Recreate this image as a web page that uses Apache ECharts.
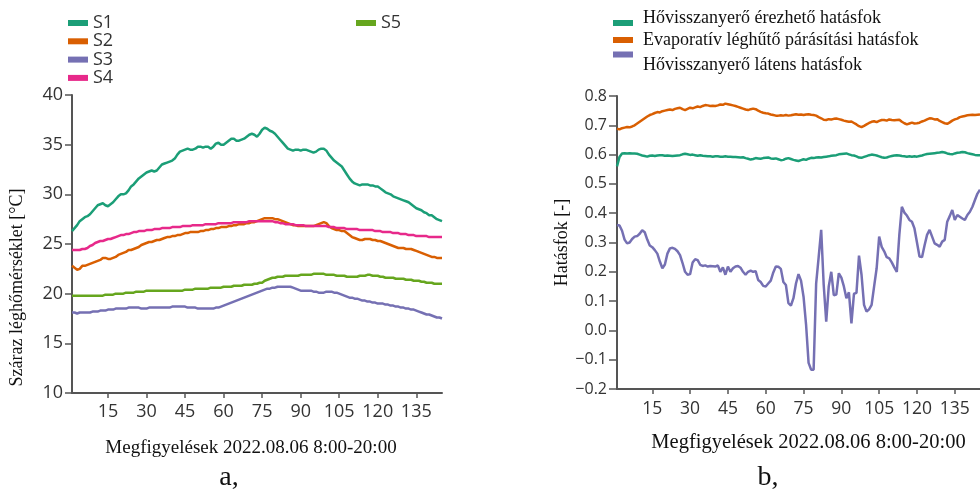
<!DOCTYPE html>
<html>
<head>
<meta charset="utf-8">
<script src="https://cdn.jsdelivr.net/npm/echarts@6/dist/echarts.min.js"></script>
<style>
  html, body { margin: 0; padding: 0; background: #fff; }
  #chart { width: 980px; height: 495px; }
</style>
</head>
<body>
<div id="chart"></div>
<script>
// Observation index (5-minute readings, 8:00-20:00)
const observationCount = 145;
const observations = [];
for (let i = 1; i <= observationCount; i++) observations.push(String(i));
const tickStep = 15;

// Panel a: dry-bulb air temperature at five measuring points [°C]
const tempS1 = [
  26.3, 26.6, 26.9, 27.3, 27.5, 27.7, 27.8, 28.0, 28.3, 28.6,
  28.9, 29.0, 29.1, 28.9, 28.8, 29.0, 29.2, 29.5, 29.8, 30.0,
  30.0, 30.1, 30.4, 30.8, 31.0, 31.3, 31.6, 31.8, 32.0, 32.2,
  32.3, 32.4, 32.3, 32.4, 32.7, 33.0, 33.1, 33.2, 33.3, 33.4,
  33.6, 34.0, 34.3, 34.4, 34.5, 34.6, 34.5, 34.5, 34.6, 34.8,
  34.8, 34.7, 34.8, 34.8, 34.6, 34.8, 35.1, 35.2, 35.0, 35.0,
  35.2, 35.4, 35.6, 35.6, 35.4, 35.4, 35.5, 35.6, 35.8, 36.0,
  36.1, 36.0, 35.8, 36.1, 36.5, 36.7, 36.6, 36.4, 36.3, 36.1,
  35.8, 35.5, 35.2, 34.9, 34.6, 34.5, 34.4, 34.5, 34.5, 34.4,
  34.5, 34.5, 34.4, 34.3, 34.2, 34.3, 34.5, 34.6, 34.6, 34.4,
  34.0, 33.7, 33.4, 33.2, 33.0, 32.8, 32.4, 32.0, 31.6, 31.3,
  31.1, 31.0, 30.9, 31.0, 31.0, 31.0, 30.9, 30.9, 30.8, 30.8,
  30.6, 30.4, 30.2, 30.1, 30.0, 29.8, 29.7, 29.6, 29.5, 29.4,
  29.3, 29.2, 29.0, 28.8, 28.6, 28.5, 28.4, 28.2, 28.1, 27.9,
  27.9, 27.7, 27.5, 27.4, 27.3
];
const tempS2 = [
  22.8, 22.6, 22.4, 22.5, 22.8, 22.8, 22.9, 23.0, 23.1, 23.2,
  23.3, 23.4, 23.6, 23.6, 23.5, 23.5, 23.6, 23.7, 23.9, 24.0,
  24.1, 24.2, 24.4, 24.4, 24.5, 24.6, 24.7, 24.9, 25.0, 25.1,
  25.2, 25.2, 25.3, 25.4, 25.4, 25.5, 25.6, 25.7, 25.7, 25.8,
  25.8, 25.9, 25.9, 26.0, 26.1, 26.1, 26.2, 26.2, 26.2, 26.2,
  26.3, 26.3, 26.4, 26.4, 26.5, 26.5, 26.6, 26.6, 26.7, 26.7,
  26.7, 26.8, 26.8, 26.9, 26.9, 27.0, 27.0, 27.0, 27.1, 27.1,
  27.2, 27.2, 27.3, 27.4, 27.5, 27.6, 27.6, 27.6, 27.6, 27.5,
  27.5, 27.4, 27.3, 27.2, 27.1, 27.0, 26.9, 26.9, 26.8, 26.8,
  26.8, 26.8, 26.8, 26.8, 26.8, 26.9, 27.0, 27.1, 27.2, 27.1,
  26.8, 26.6, 26.5, 26.4, 26.4, 26.3, 26.3, 26.1, 25.9, 25.7,
  25.6, 25.5, 25.4, 25.4, 25.5, 25.5, 25.5, 25.4, 25.4, 25.3,
  25.3, 25.2, 25.1, 25.0, 24.9, 24.8, 24.7, 24.6, 24.6, 24.6,
  24.5, 24.5, 24.5, 24.4, 24.3, 24.2, 24.1, 24.0, 23.9, 23.8,
  23.7, 23.7, 23.6, 23.6, 23.6
];
const tempS3 = [
  18.1, 18.1, 18.0, 18.1, 18.1, 18.1, 18.1, 18.1, 18.2, 18.2,
  18.2, 18.3, 18.3, 18.3, 18.4, 18.4, 18.4, 18.5, 18.5, 18.5,
  18.5, 18.5, 18.6, 18.6, 18.6, 18.6, 18.6, 18.5, 18.5, 18.5,
  18.6, 18.6, 18.6, 18.6, 18.6, 18.6, 18.6, 18.6, 18.6, 18.7,
  18.7, 18.7, 18.7, 18.7, 18.7, 18.6, 18.6, 18.6, 18.6, 18.5,
  18.5, 18.5, 18.5, 18.5, 18.5, 18.5, 18.6, 18.6, 18.7, 18.8,
  18.9, 19.0, 19.1, 19.2, 19.3, 19.4, 19.5, 19.6, 19.7, 19.8,
  19.9, 20.0, 20.1, 20.2, 20.3, 20.4, 20.5, 20.5, 20.6, 20.6,
  20.7, 20.7, 20.7, 20.7, 20.7, 20.7, 20.6, 20.5, 20.4, 20.3,
  20.3, 20.3, 20.3, 20.3, 20.2, 20.2, 20.1, 20.1, 20.1, 20.2,
  20.2, 20.2, 20.1, 20.1, 20.0, 19.9, 19.8, 19.7, 19.6, 19.6,
  19.5, 19.5, 19.4, 19.3, 19.3, 19.2, 19.2, 19.1, 19.1, 19.0,
  19.0, 19.0, 18.9, 18.9, 18.8, 18.8, 18.7, 18.7, 18.6, 18.6,
  18.5, 18.5, 18.4, 18.4, 18.3, 18.2, 18.1, 18.0, 17.9, 17.9,
  17.8, 17.7, 17.6, 17.6, 17.5
];
const tempS4 = [
  24.4, 24.4, 24.4, 24.4, 24.5, 24.5, 24.6, 24.8, 24.9, 25.1,
  25.2, 25.3, 25.3, 25.4, 25.5, 25.5, 25.6, 25.7, 25.8, 25.9,
  25.9, 26.0, 26.0, 26.1, 26.2, 26.2, 26.3, 26.3, 26.3, 26.4,
  26.4, 26.4, 26.5, 26.5, 26.5, 26.6, 26.6, 26.6, 26.6, 26.7,
  26.7, 26.7, 26.7, 26.8, 26.8, 26.8, 26.8, 26.9, 26.9, 26.9,
  26.9, 26.9, 27.0, 27.0, 27.0, 27.0, 27.0, 27.1, 27.1, 27.1,
  27.1, 27.1, 27.1, 27.2, 27.2, 27.2, 27.2, 27.2, 27.2, 27.3,
  27.3, 27.3, 27.3, 27.3, 27.3, 27.3, 27.3, 27.3, 27.3, 27.2,
  27.2, 27.1, 27.1, 27.0, 27.0, 27.0, 27.0, 26.9, 26.9, 26.9,
  26.9, 26.8, 26.8, 26.8, 26.8, 26.8, 26.8, 26.8, 26.8, 26.8,
  26.7, 26.7, 26.7, 26.6, 26.6, 26.6, 26.6, 26.5, 26.5, 26.5,
  26.5, 26.5, 26.4, 26.4, 26.4, 26.4, 26.4, 26.4, 26.3, 26.3,
  26.3, 26.2, 26.2, 26.2, 26.2, 26.1, 26.1, 26.1, 26.0, 26.0,
  26.0, 25.9, 25.9, 25.9, 25.8, 25.8, 25.8, 25.8, 25.8, 25.7,
  25.7, 25.7, 25.7, 25.7, 25.7
];
const tempS5 = [
  19.8, 19.8, 19.8, 19.8, 19.8, 19.8, 19.8, 19.8, 19.8, 19.8,
  19.8, 19.8, 19.8, 19.9, 19.9, 19.9, 19.9, 20.0, 20.0, 20.0,
  20.0, 20.1, 20.1, 20.1, 20.1, 20.2, 20.2, 20.2, 20.2, 20.3,
  20.3, 20.3, 20.3, 20.3, 20.3, 20.3, 20.3, 20.3, 20.3, 20.3,
  20.3, 20.3, 20.3, 20.3, 20.4, 20.4, 20.4, 20.4, 20.5, 20.5,
  20.5, 20.5, 20.5, 20.5, 20.6, 20.6, 20.6, 20.6, 20.6, 20.7,
  20.7, 20.7, 20.7, 20.8, 20.8, 20.8, 20.8, 20.9, 20.9, 20.9,
  20.9, 21.0, 21.0, 21.1, 21.1, 21.3, 21.4, 21.5, 21.6, 21.6,
  21.7, 21.7, 21.7, 21.8, 21.8, 21.8, 21.8, 21.8, 21.8, 21.9,
  21.9, 21.9, 21.9, 21.9, 22.0, 22.0, 22.0, 22.0, 22.0, 21.9,
  21.9, 21.9, 21.9, 21.8, 21.8, 21.8, 21.8, 21.7, 21.7, 21.7,
  21.7, 21.7, 21.8, 21.8, 21.8, 21.9, 21.9, 21.8, 21.8, 21.8,
  21.7, 21.7, 21.6, 21.6, 21.6, 21.6, 21.5, 21.5, 21.5, 21.5,
  21.4, 21.4, 21.4, 21.3, 21.3, 21.3, 21.2, 21.2, 21.1, 21.1,
  21.1, 21.0, 21.0, 21.0, 21.0
];

// Panel b: efficiencies [-]
const effSensible = [
  0.560, 0.592, 0.604, 0.605, 0.604, 0.605, 0.604, 0.604, 0.603, 0.600,
  0.597, 0.595, 0.593, 0.596, 0.597, 0.595, 0.597, 0.598, 0.598, 0.596,
  0.597, 0.596, 0.595, 0.596, 0.597, 0.598, 0.601, 0.603, 0.601, 0.599,
  0.600, 0.598, 0.596, 0.598, 0.596, 0.595, 0.594, 0.594, 0.593, 0.594,
  0.594, 0.593, 0.593, 0.594, 0.593, 0.593, 0.592, 0.592, 0.591, 0.590,
  0.591, 0.588, 0.586, 0.583, 0.585, 0.588, 0.587, 0.586, 0.588, 0.589,
  0.590, 0.587, 0.586, 0.587, 0.584, 0.581, 0.582, 0.586, 0.588, 0.585,
  0.582, 0.580, 0.578, 0.581, 0.584, 0.582, 0.586, 0.589, 0.588, 0.590,
  0.591, 0.590, 0.592, 0.593, 0.594, 0.596, 0.597, 0.598, 0.601, 0.602,
  0.603, 0.604, 0.601, 0.598, 0.597, 0.594, 0.590, 0.589, 0.592, 0.595,
  0.598, 0.600, 0.599, 0.597, 0.594, 0.591, 0.589, 0.590, 0.593, 0.595,
  0.597, 0.598, 0.597, 0.595, 0.594, 0.593, 0.594, 0.593, 0.594, 0.593,
  0.595, 0.597, 0.600, 0.602, 0.603, 0.604, 0.605, 0.606, 0.607, 0.609,
  0.607, 0.604, 0.602, 0.601, 0.604, 0.606, 0.607, 0.609, 0.608, 0.605,
  0.603, 0.601, 0.599, 0.598, 0.598
];
const effEvaporative = [
  0.688, 0.686, 0.690, 0.692, 0.694, 0.693, 0.696, 0.700, 0.706, 0.712,
  0.718, 0.724, 0.730, 0.735, 0.738, 0.742, 0.745, 0.744, 0.748, 0.750,
  0.752, 0.754, 0.752, 0.756, 0.758, 0.760, 0.755, 0.752, 0.756, 0.760,
  0.758, 0.761, 0.764, 0.762, 0.766, 0.769, 0.768, 0.766, 0.767, 0.766,
  0.768, 0.771, 0.770, 0.774, 0.772, 0.770, 0.768, 0.766, 0.763, 0.760,
  0.757, 0.754, 0.752, 0.755, 0.757, 0.755, 0.750, 0.746, 0.743, 0.741,
  0.740, 0.737, 0.735, 0.733, 0.733, 0.734, 0.733, 0.735, 0.733, 0.734,
  0.736, 0.738, 0.736, 0.737, 0.735, 0.737, 0.738, 0.736, 0.735, 0.733,
  0.728, 0.724, 0.719, 0.718, 0.721, 0.720, 0.722, 0.723, 0.721, 0.719,
  0.716, 0.714, 0.712, 0.713, 0.708, 0.703, 0.697, 0.694, 0.698, 0.703,
  0.708, 0.712, 0.714, 0.711, 0.715, 0.718, 0.718, 0.716, 0.720, 0.718,
  0.717, 0.718, 0.719, 0.712, 0.707, 0.703, 0.706, 0.709, 0.706, 0.707,
  0.709, 0.713, 0.716, 0.720, 0.724, 0.723, 0.720, 0.721, 0.715, 0.711,
  0.707, 0.705, 0.710, 0.716, 0.720, 0.723, 0.728, 0.730, 0.732, 0.734,
  0.735, 0.736, 0.735, 0.736, 0.737
];
const effLatent = [
  0.360, 0.358, 0.340, 0.310, 0.297, 0.300, 0.312, 0.320, 0.322, 0.330,
  0.342, 0.335, 0.310, 0.290, 0.284, 0.274, 0.262, 0.235, 0.212, 0.225,
  0.262, 0.280, 0.282, 0.278, 0.270, 0.257, 0.230, 0.200, 0.190, 0.192,
  0.232, 0.243, 0.240, 0.224, 0.220, 0.222, 0.218, 0.220, 0.219, 0.218,
  0.222, 0.200, 0.215, 0.190, 0.218, 0.200, 0.212, 0.218, 0.220, 0.214,
  0.200, 0.190, 0.200, 0.204, 0.200, 0.202, 0.172, 0.165, 0.152, 0.150,
  0.160, 0.170, 0.198, 0.218, 0.217, 0.210, 0.165, 0.155, 0.093, 0.085,
  0.110, 0.160, 0.192, 0.170, 0.115, 0.020, -0.111, -0.134, -0.134, 0.160,
  0.250, 0.343, 0.155, 0.030, 0.150, 0.200, 0.120, 0.122, 0.195, 0.180,
  0.150, 0.110, 0.130, 0.024, 0.125, 0.128, 0.255, 0.190, 0.087, 0.064,
  0.072, 0.087, 0.150, 0.212, 0.320, 0.285, 0.270, 0.250, 0.246, 0.232,
  0.215, 0.200, 0.326, 0.422, 0.402, 0.392, 0.377, 0.371, 0.348, 0.300,
  0.252, 0.250, 0.290, 0.326, 0.343, 0.320, 0.297, 0.292, 0.286, 0.303,
  0.309, 0.371, 0.390, 0.411, 0.377, 0.394, 0.388, 0.382, 0.377, 0.394,
  0.405, 0.422, 0.445, 0.467, 0.480
];

const tempNames = ['S1', 'S2', 'S3', 'S4', 'S5'];
const effNames = [
  'Hővisszanyerő érezhető hatásfok',
  'Evaporatív léghűtő párásítási hatásfok',
  'Hővisszanyerő látens hatásfok'
];
const tempTicks = { min: 10, max: 40, step: 5 };
const effTicks = { min: -0.2, max: 0.8, step: 0.1 };
const xTitle = 'Megfigyelések 2022.08.06 8:00-20:00';
const tempTitle = 'Száraz léghőmérséklet [°C]';
const effTitle = 'Hatásfok [-]';

// Dark2 palette
const green = '#1b9e77', orange = '#d95f02', purple = '#7570b3', pink = '#e7298a', lime = '#66a61e';

const sans = '"Open Sans", "Noto Sans", sans-serif';
const serif = '"Liberation Serif", "DejaVu Serif", serif';
const axisColor = '#555';
const labelColor = '#333';

// Legend swatches for panel b sit a little off the text baseline:
// a degenerate sub-path stretches the icon box so the bar lands lower / higher.
const swatchLow = 'path://M0,0L20,0L20,0Z M0,10L20,10L20,16L0,16Z';
const swatchHigh = 'path://M0,0L20,0L20,6L0,6Z M0,27L20,27L20,27Z';

const showTick = (idx, val) => Number(val) % tickStep === 0;

function xAxisFor(gridIndex, opts) {
  return {
    gridIndex,
    type: 'category',
    data: observations,
    boundaryGap: false,
    axisLine: { onZero: false, lineStyle: { color: axisColor, width: 2 } },
    axisTick: { interval: showTick, length: 5, lineStyle: { color: axisColor, width: 1.5 } },
    axisLabel: { interval: showTick, fontFamily: sans, fontSize: opts.labelSize, color: labelColor, margin: opts.labelMargin },
    splitLine: { show: false },
    name: xTitle,
    nameLocation: 'middle',
    nameGap: opts.nameGap,
    nameTextStyle: { fontFamily: serif, fontSize: opts.nameSize, color: '#111', padding: opts.namePadding }
  };
}

function line(name, data, color, xi) {
  return {
    name, type: 'line', data,
    xAxisIndex: xi, yAxisIndex: xi,
    showSymbol: false, symbol: 'none',
    lineStyle: { color, width: 2.5 },
    itemStyle: { color },
    emphasis: { disabled: true },
    z: 3
  };
}

function effLegend(name, top, icon, iconHeight) {
  return {
    data: [{ name, icon }], left: 613, top, padding: 0,
    itemWidth: 20, itemHeight: iconHeight, selectedMode: false,
    textStyle: { fontFamily: serif, fontSize: 18, color: '#111', lineHeight: 18, padding: [0, 0, 0, 5] }
  };
}

const chart = echarts.init(document.getElementById('chart'), null, { renderer: 'canvas' });

const option = {
  animation: false,
  backgroundColor: '#fff',
  grid: [
    { left: 72, top: 95, width: 370, height: 298 },
    { left: 617, top: 96, width: 367, height: 293 }
  ],
  legend: [
    {
      data: tempNames.slice(0, 4), orient: 'vertical', left: 68, top: 14, padding: 0,
      itemWidth: 20, itemHeight: 6, itemGap: 0.3, icon: 'rect', selectedMode: false,
      textStyle: { fontFamily: sans, fontSize: 18, color: labelColor, lineHeight: 16 }
    },
    {
      data: [tempNames[4]], left: 356, top: 14, padding: 0,
      itemWidth: 20, itemHeight: 6, icon: 'rect', selectedMode: false,
      textStyle: { fontFamily: sans, fontSize: 18, color: labelColor, lineHeight: 16 }
    },
    effLegend(effNames[0], 9, swatchLow, 16),
    effLegend(effNames[1], 31, 'rect', 6),
    effLegend(effNames[2], 51.5, swatchHigh, 27)
  ],
  xAxis: [
    xAxisFor(0, { labelSize: 18, labelMargin: 10, nameGap: 46, nameSize: 19, namePadding: [0, 12, 0, 0] }),
    xAxisFor(1, { labelSize: 17.5, labelMargin: 11, nameGap: 43, nameSize: 20.5, namePadding: [0, 0, 0, 20] })
  ],
  yAxis: [
    {
      gridIndex: 0, type: 'value',
      min: tempTicks.min, max: tempTicks.max, interval: tempTicks.step,
      axisLine: { show: true, lineStyle: { color: axisColor, width: 2 } },
      axisTick: { show: true, length: 7, lineStyle: { color: axisColor, width: 1.5 } },
      axisLabel: { fontFamily: sans, fontSize: 18, color: labelColor, margin: 9 },
      splitLine: { show: false },
      name: tempTitle, nameLocation: 'middle', nameGap: 46,
      nameTextStyle: { fontFamily: serif, fontSize: 18, color: '#111', padding: [0, 87, 0, 0] }
    },
    {
      gridIndex: 1, type: 'value',
      min: effTicks.min, max: effTicks.max, interval: effTicks.step,
      axisLine: { show: true, lineStyle: { color: axisColor, width: 2 } },
      axisTick: { show: true, length: 8, lineStyle: { color: axisColor, width: 1.5 } },
      axisLabel: {
        fontFamily: sans, fontSize: 16, color: labelColor, margin: 10,
        formatter: v => v.toFixed(1).replace('-', '\u2212')
      },
      splitLine: { show: false },
      name: effTitle, nameLocation: 'middle', nameGap: 45,
      nameTextStyle: { fontFamily: serif, fontSize: 18, color: '#111' }
    }
  ],
  series: [
    line(tempNames[0], tempS1, green, 0),
    line(tempNames[1], tempS2, orange, 0),
    line(tempNames[2], tempS3, purple, 0),
    line(tempNames[3], tempS4, pink, 0),
    line(tempNames[4], tempS5, lime, 0),
    line(effNames[0], effSensible, green, 1),
    line(effNames[1], effEvaporative, orange, 1),
    line(effNames[2], effLatent, purple, 1)
  ],
  graphic: [
    { type: 'text', x: 229, y: 478, style: { text: 'a,', fontFamily: serif, fontSize: 28, fill: '#111', align: 'center', verticalAlign: 'middle' } },
    { type: 'text', x: 768, y: 478, style: { text: 'b,', fontFamily: serif, fontSize: 28, fill: '#111', align: 'center', verticalAlign: 'middle' } }
  ]
};

chart.setOption(option);
</script>
</body>
</html>
